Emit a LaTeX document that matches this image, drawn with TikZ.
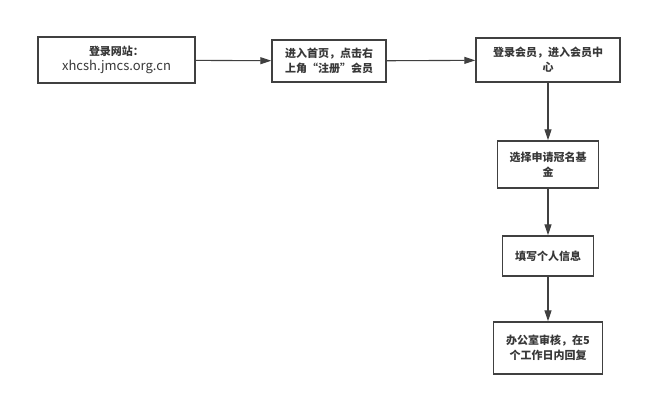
\documentclass[tikz,border=0pt]{standalone}
\usepackage{fontspec}
\setmainfont{Noto Sans CJK SC}
\usetikzlibrary{arrows.meta, positioning}

\begin{document}
\begin{tikzpicture}[
  x=1pt, y=-1pt,
  every node/.style = {font=\fontsize{11}{15}\selectfont\bfseries, text=black!78},
  stepbox/.style = {
    draw=black!75, rectangle, line width=1.4pt, inner sep=0pt, align=center
  },
  flow/.style = {-{Triangle[length=11pt, width=7pt]}, line width=1.1pt, draw=black!75}
]
\useasboundingbox (0,0) rectangle (646,400);

\node[stepbox, minimum width=157pt, minimum height=46pt] (site) at (116.5,60)
  {登录网站：\\{\fontsize{13}{15}\selectfont\mdseries xhcsh.jmcs.org.cn}};
\node[stepbox, minimum width=114pt, minimum height=42pt] (home) at (329,61)
  {进入首页，点击右\\上角“注册”会员};
\node[stepbox, minimum width=144pt, minimum height=44pt] (login) at (548,60)
  {登录会员，进入会员中\\心};
\node[stepbox, minimum width=101pt, minimum height=47pt] (fund) at (548,164.5)
  {选择申请冠名基\\金};
\node[stepbox, minimum width=91pt, minimum height=40pt] (info) at (548,256)
  {填写个人信息};
\node[stepbox, minimum width=109pt, minimum height=52pt] (review) at (548,348)
  {办公室审核，在5\\个工作日内回复};

\draw[flow] (site) -- (home);
\draw[flow] (home) -- (login);
\draw[flow] (login) -- (fund);
\draw[flow] (fund) -- (info);
\draw[flow] (info) -- (review);

\end{tikzpicture}
\end{document}
